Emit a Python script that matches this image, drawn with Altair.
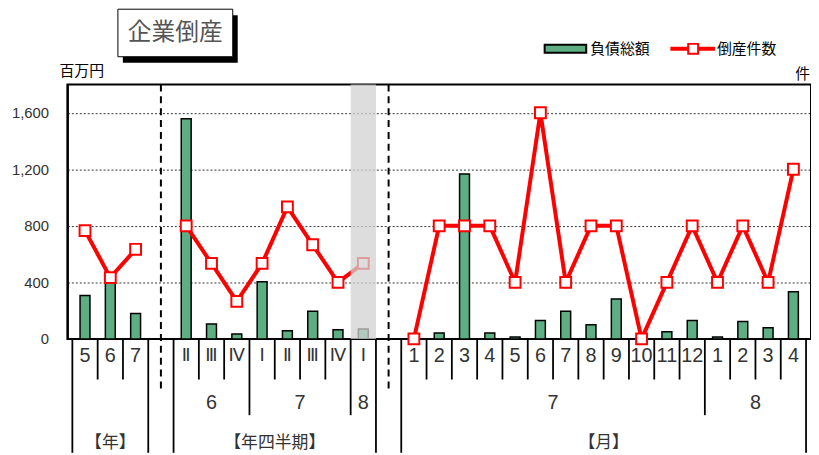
import altair as alt
import pandas as pd

# ---------------- data ----------------
annual_labels = ["5", "6", "7"]
annual_debt = [308, 400, 180]          # 百万円
annual_count = [3.83, 2.17, 3.17]      # 件

quarter_labels = ["Ⅱ", "Ⅲ", "Ⅳ", "Ⅰ", "Ⅱ", "Ⅲ", "Ⅳ", "Ⅰ"]
quarter_years = ["6", "6", "6", "7", "7", "7", "7", "8"]
quarter_debt = [1558, 105, 35, 404, 58, 196, 65, 70]
quarter_count = [4.0, 2.67, 1.33, 2.67, 4.67, 3.33, 2.0, 2.67]

month_labels = ["1", "2", "3", "4", "5", "6", "7", "8", "9", "10", "11", "12", "1", "2", "3", "4"]
month_years = ["7"] * 12 + ["8"] * 4
month_debt = [0, 42, 1167, 42, 14, 131, 196, 100, 282, 0, 51, 131, 14, 124, 79, 334]
month_count = [0, 4, 4, 4, 2, 8, 2, 4, 4, 0, 2, 4, 2, 4, 2, 6]

section_titles = ["【年】", "【年四半期】", "【月】"]
y_ticks = [0, 400, 800, 1200, 1600]

# ---------------- build tables ----------------
sections = [
    (annual_labels, [None] * len(annual_labels), annual_debt, annual_count),
    (quarter_labels, quarter_years, quarter_debt, quarter_count),
    (month_labels, month_years, month_debt, month_count),
]
rows, sec_rows, year_rows, bounds, gaps = [], [], [], [], []
idx = 0
for s, (labs, yrs, debts, counts) in enumerate(sections):
    start = idx
    for j, (l, yv, d, c) in enumerate(zip(labs, yrs, debts, counts)):
        rows.append(dict(idx=idx, label=l, year=yv, debt=d, count=c, grp=s,
                         roman=(s == 1)))
        if j > 0:
            kind = "medium" if (yv is not None and yv != yrs[j - 1]) else "short"
            bounds.append(dict(pos=idx - 0.5, kind=kind))
        idx += 1
    end = idx - 1
    bounds.append(dict(pos=start - 0.5, kind="long"))
    bounds.append(dict(pos=end + 0.5, kind="long"))
    sec_rows.append(dict(pos=(start + end) / 2, text=section_titles[s]))
    if yrs[0] is not None:
        j = 0
        while j < len(yrs):
            k = j
            while k + 1 < len(yrs) and yrs[k + 1] == yrs[j]:
                k += 1
            year_rows.append(dict(pos=start + (j + k) / 2, text=yrs[j]))
            j = k + 1
    if s < len(sections) - 1:
        gaps.append(dict(pos=idx))
        idx += 1

df = pd.DataFrame(rows)
bdf = pd.DataFrame(bounds).drop_duplicates()
last_q = df[df.grp == 1].idx.max()
hl = pd.DataFrame([dict(a=last_q - 0.5, b=last_q + 0.5)])
n_slots = idx

W, H = 751, 257
XS = alt.Scale(domain=[-0.5, n_slots - 0.5], nice=False, zero=False)
GREEN = "#5dae83"
NUM_FONT = "Liberation Sans Narrow, Liberation Sans, sans-serif"
ROM_FONT = "DejaVu Sans, Noto Sans CJK JP"
JP_FONT = "Noto Sans CJK JP"

base = alt.Chart(df)

bars = base.mark_bar(size=10, fill=GREEN, stroke="black", strokeWidth=1.5).encode(
    x=alt.X("idx:Q", scale=XS, axis=None),
    y=alt.Y("debt:Q", scale=alt.Scale(domain=[0, 1800], nice=False),
            axis=alt.Axis(values=y_ticks, format=",.0f", title=None, ticks=False,
                          labelPadding=19, labelFontSize=15, labelFont="Liberation Sans",
                          labelColor="#333333", domainColor="black", domainWidth=2,
                          grid=True, gridColor="black", gridDash=[2, 2], gridWidth=0.8)),
)

CS = alt.Scale(domain=[0, 9], nice=False)
line = base.mark_line(color="#ff0000", strokeWidth=4).encode(
    x=alt.X("idx:Q", scale=XS, axis=None),
    y=alt.Y("count:Q", scale=CS, axis=None),
    detail="grp:N",
)
pts = base.mark_point(shape="square", filled=True, fill="white", stroke="#ff0000",
                      strokeWidth=2, size=120, opacity=1).encode(
    x=alt.X("idx:Q", scale=XS, axis=None),
    y=alt.Y("count:Q", scale=CS, axis=None),
)

band = alt.Chart(hl).mark_rect(color="#d2d2d2", opacity=0.75).encode(
    x=alt.X("a:Q", scale=XS, axis=None), x2="b:Q",
    y=alt.value(0), y2=alt.value(H),
)

def rules(kind, y2):
    return alt.Chart(bdf[bdf.kind == kind]).mark_rule(color="black", strokeWidth=1.8).encode(
        x=alt.X("pos:Q", scale=XS, axis=None), y=alt.value(H), y2=alt.value(y2))

r_short = rules("short", 298)
r_med = rules("medium", 334)
r_long = rules("long", 372)

dashes = alt.Chart(pd.DataFrame(gaps)).mark_rule(color="black", strokeWidth=2, strokeDash=[7, 5]).encode(
    x=alt.X("pos:Q", scale=XS, axis=None), y=alt.value(0), y2=alt.value(307))

row1_num = alt.Chart(df[~df.roman]).mark_text(fontSize=20, font=NUM_FONT, color="#333333",
                                             baseline="middle").encode(
    x=alt.X("idx:Q", scale=XS, axis=None), y=alt.value(274), text="label:N")
row1_rom = alt.Chart(df[df.roman]).mark_text(fontSize=18, font=ROM_FONT, color="#333333",
                                            baseline="middle").encode(
    x=alt.X("idx:Q", scale=XS, axis=None), y=alt.value(274), text="label:N")
row2 = alt.Chart(pd.DataFrame(year_rows)).mark_text(fontSize=20, font=NUM_FONT, color="#333333",
                                                     baseline="middle").encode(
    x=alt.X("pos:Q", scale=XS, axis=None), y=alt.value(322), text="text:N")
row3 = alt.Chart(pd.DataFrame(sec_rows)).mark_text(fontSize=17, font=JP_FONT, color="#333333",
                                                    baseline="middle").encode(
    x=alt.X("pos:Q", scale=XS, axis=None), y=alt.value(362), text="text:N")

one = alt.Data(values=[{"k": 1}])
deco = alt.Chart(one)
shadow = deco.mark_rect(color="black").encode(
    x=alt.value(56), x2=alt.value(172), y=alt.value(-70), y2=alt.value(-22))
box = deco.mark_rect(fill="white", stroke="black", strokeWidth=1).encode(
    x=alt.value(51), x2=alt.value(167), y=alt.value(-76), y2=alt.value(-28))
title = deco.mark_text(text="企業倒産", font=JP_FONT, fontSize=24, color="#555555",
                       baseline="middle").encode(x=alt.value(109), y=alt.value(-52))
unit_l = deco.mark_text(text="百万円", font=JP_FONT, fontSize=15, color="black", align="left",
                        baseline="middle").encode(x=alt.value(-8), y=alt.value(-14))
unit_r = deco.mark_text(text="件", font=JP_FONT, fontSize=15, color="black", align="left",
                        baseline="middle").encode(x=alt.value(735), y=alt.value(-11))
leg_sw = deco.mark_rect(fill=GREEN, stroke="black", strokeWidth=2).encode(
    x=alt.value(482), x2=alt.value(524), y=alt.value(-40), y2=alt.value(-32))
leg_t1 = deco.mark_text(text="負債総額", font=JP_FONT, fontSize=15, color="black", align="left",
                        baseline="middle").encode(x=alt.value(528), y=alt.value(-36))
leg_ln = deco.mark_rule(color="#ff0000", strokeWidth=4).encode(
    x=alt.value(609), x2=alt.value(654), y=alt.value(-36))
leg_pt = deco.mark_point(shape="square", filled=True, fill="white", stroke="#ff0000",
                         strokeWidth=2, size=100, opacity=1).encode(x=alt.value(632), y=alt.value(-36))
leg_t2 = deco.mark_text(text="倒産件数", font=JP_FONT, fontSize=15, color="black", align="left",
                        baseline="middle").encode(x=alt.value(656), y=alt.value(-36))

chart = alt.layer(
    bars, line, pts, band, dashes, r_short, r_med, r_long, row1_num, row1_rom, row2, row3,
    shadow, box, title, unit_l, unit_r, leg_sw, leg_t1, leg_ln, leg_pt, leg_t2,
).resolve_scale(y="independent").properties(
    width=W, height=H,
    autosize=alt.AutoSizeParams(type="none"),
    padding={"left": 60, "top": 75, "right": 0, "bottom": 115},
).configure_view(stroke="black", strokeWidth=2)

chart.save("out.html", embed_options={"renderer": "svg", "actions": False})
